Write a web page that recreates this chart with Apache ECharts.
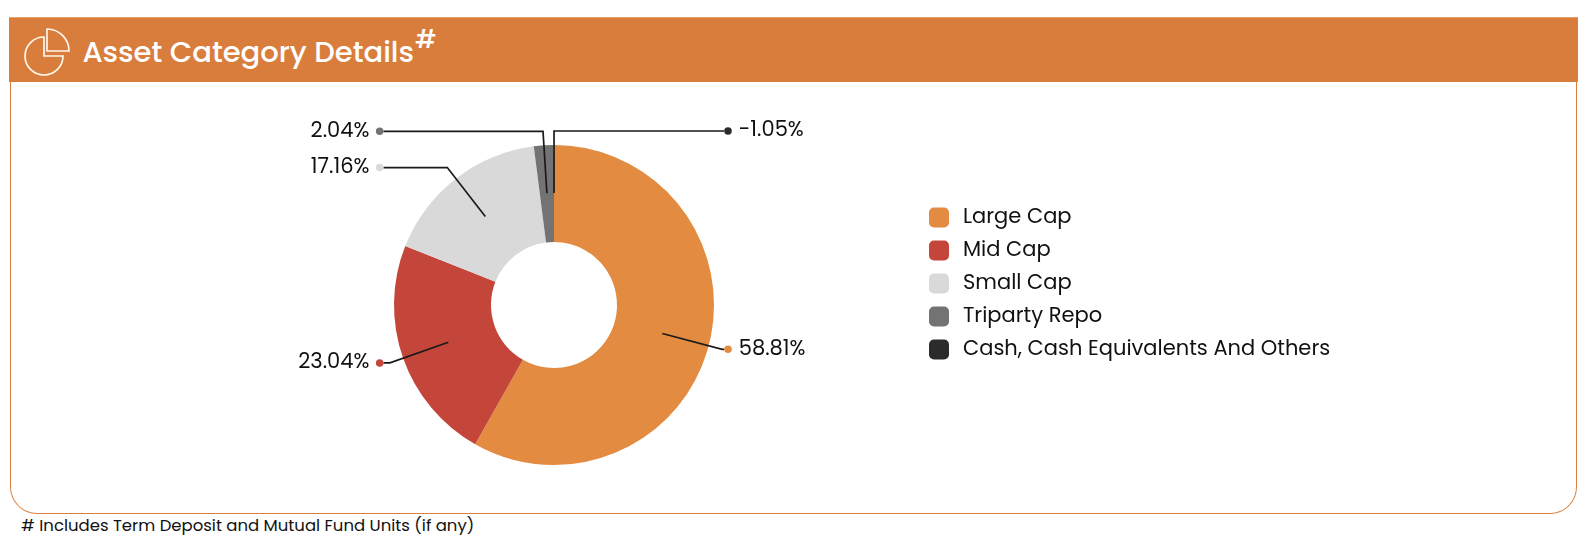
<!DOCTYPE html>
<html>
<head>
<meta charset="utf-8">
<title>Asset Category Details</title>
<script src="https://cdn.jsdelivr.net/npm/echarts@6/dist/echarts.min.js"></script>
<style>
  html, body { margin: 0; padding: 0; background: #fff; }
  body { width: 1594px; height: 544px; position: relative; overflow: hidden;
         font-family: Poppins, Inter, 'Open Sans', sans-serif; color: #111; }
  .card { position: absolute; left: 10px; top: 17px; width: 1567px; height: 497px;
          box-sizing: border-box; border: 1.6px solid #d98040; border-top: none;
          border-radius: 0 0 27px 27px; }
  .head { position: absolute; left: -1.6px; right: -1.6px; top: 0; height: 65px;
          background: #d97d3c; border-top: 1px solid #e8a36d; box-sizing: border-box; }
  .head h1 { position: absolute; left: 73px; top: 16px; margin: 0; font-size: 29px;
             font-weight: 500; color: #fff; line-height: 36px; white-space: nowrap; }
  .head h1 sup { font-size: 25px; vertical-align: 0; position: relative; top: -14px; margin-left: 1px; }
  .icon { position: absolute; left: 0; top: 0; }
  .note { position: absolute; left: 21px; top: 516px; font-size: 16.5px; line-height: 20px; color: #111; }
  #chart { position: absolute; left: 0; top: 0; width: 1594px; height: 544px; }
</style>
</head>
<body>
<div class="card">
  <div class="head">
    <h1>Asset Category Details<sup>#</sup></h1>
  </div>
</div>
<svg class="icon" width="80" height="80" viewBox="0 0 80 80" fill="none" stroke="#fff6ec" stroke-width="1.7">
  <path d="M44 37 A19 19 0 1 0 63 56 L44 56 Z"/>
  <path d="M47 29 A22 22 0 0 1 69 51 L47 51 Z"/>
</svg>
<div class="note"># Includes Term Deposit and Mutual Fund Units (if any)</div>
<div id="chart"></div>
<script>
var FONT = 'Poppins, Inter, sans-serif';

// allocation data
var categories = ['Large Cap', 'Mid Cap', 'Small Cap', 'Triparty Repo', 'Cash, Cash Equivalents And Others'];
var weights = [58.81, 23.04, 17.16, 2.04, -1.05];
var sliceColors = ['#e38b40', '#c4463a', '#d9d9d9', '#737373', '#2b2b2b'];

// ring geometry
var CX = 554, CY = 305;
var R_IN = 63, R_OUT = 160;
var R_TICK = 112;          // leader lines start in the middle of the ring
var LEN1 = 62, LEN2 = 4;
var TAIL_L = 6.5, TAIL_R = 2;
var START = 89.99;         // a hair off 90 so the zero slice at the top falls on the right

// a pie can't draw a negative share, so that one gets a zero-width slice
var total = 0;
weights.forEach(function (w) { total += Math.max(w, 0); });

// side and elbow x of each leader line, same angles the pie uses
var onRight = [];
var elbowX = [];
var acc = 0;
weights.forEach(function (w) {
    var v = Math.max(w, 0);
    var a = (90 - START) * Math.PI / 180 + (acc + v / 2) / total * 2 * Math.PI;
    acc += v;
    onRight.push(Math.sin(a) > 0);
    elbowX.push(CX + (R_TICK + LEN1) * Math.sin(a));
});
var rightX = -Infinity, leftX = Infinity;
elbowX.forEach(function (x, i) {
    if (onRight[i]) rightX = Math.max(rightX, x + TAIL_R);
    else leftX = Math.min(leftX, x - TAIL_L);
});

var rich = {
    l: { fontSize: 21, color: '#111', fontFamily: FONT, padding: [0, 6.5, 0, 0] },
    r: { fontSize: 21, color: '#111', fontFamily: FONT, padding: [0, 0, 0, 7] }
};
sliceColors.forEach(function (c, i) {
    rich['d' + i] = { width: 7.5, height: 7.5, borderRadius: 3.75, backgroundColor: c };
});

var ringData = categories.map(function (name, i) {
    return { name: name, value: Math.max(weights[i], 0), itemStyle: { color: sliceColors[i] } };
});
var labelData = categories.map(function (name, i) {
    return { name: name, value: Math.max(weights[i], 0) };
});

var chart = echarts.init(document.getElementById('chart'));
chart.setOption({
    animation: false,
    legend: {
        orient: 'vertical',
        left: 929,
        top: 207,
        padding: 0,
        itemWidth: 20,
        itemHeight: 20,
        itemGap: 12,
        icon: 'roundRect',
        selectedMode: false,
        data: categories,
        textStyle: { fontSize: 21, lineHeight: 20, color: '#111', fontFamily: FONT, padding: [0, 0, 0, 9] }
    },
    series: [
        {
            type: 'pie',
            center: [CX, CY],
            radius: [R_IN, R_OUT],
            startAngle: 90,
            silent: true,
            label: { show: false },
            labelLine: { show: false },
            itemStyle: { borderWidth: 0 },
            data: ringData
        },
        {
            // invisible copy, only there so the leader lines start inside the ring
            type: 'pie',
            z: 3,
            center: [CX, CY],
            radius: [0, R_TICK],
            startAngle: START,
            silent: true,
            itemStyle: { color: 'rgba(0,0,0,0)', borderWidth: 0 },
            label: {
                position: 'outside',
                fontFamily: FONT,
                formatter: function (p) {
                    var i = p.dataIndex;
                    var txt = weights[i].toFixed(2) + '%';
                    return onRight[i] ? '{d' + i + '|}{r|' + txt + '}' : '{l|' + txt + '}{d' + i + '|}';
                },
                rich: rich
            },
            labelLine: {
                length: LEN1,
                length2: LEN2,
                lineStyle: { color: '#1a1a1a', width: 1.7 }
            },
            // all labels on a side end at the same x, like the original
            labelLayout: function (p) {
                var i = p.dataIndex;
                var tx = onRight[i] ? rightX : leftX;
                var pts = p.labelLinePoints;
                var res = { x: tx, align: onRight[i] ? 'left' : 'right' };
                if (pts) res.labelLinePoints = [pts[0], pts[1], [tx, pts[2][1]]];
                return res;
            },
            data: labelData
        }
    ]
});
</script>
</body>
</html>
